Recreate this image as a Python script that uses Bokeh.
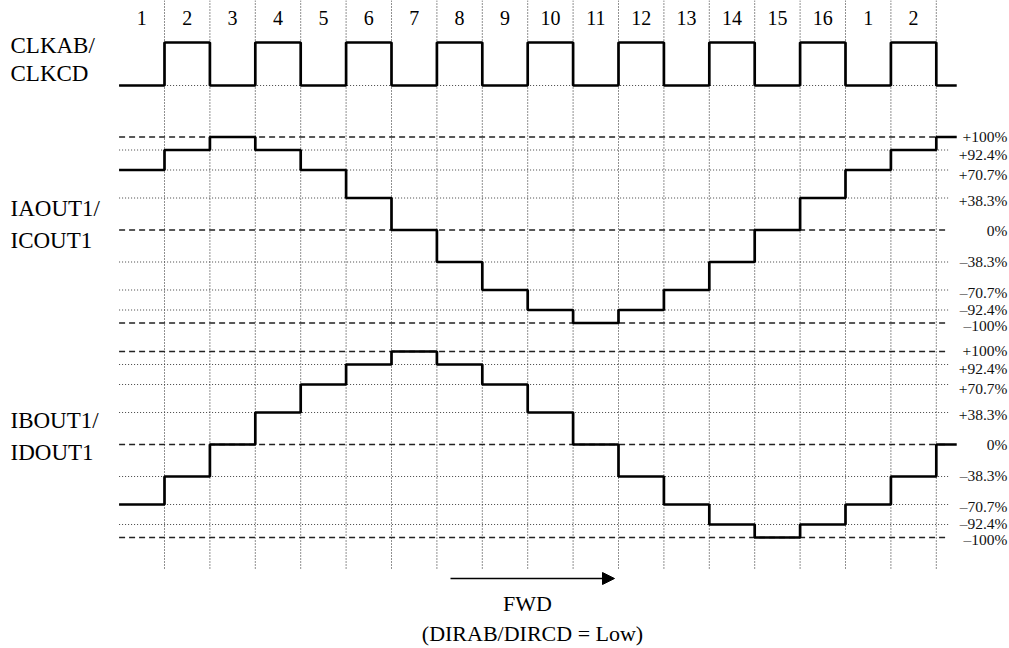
import numpy as np
from bokeh.plotting import figure
from bokeh.models import Range1d, Arrow, NormalHead
from bokeh.embed import file_html
from bokeh.resources import INLINE
from bokeh.core.properties import value

# ---------------- data ----------------
step_labels = ["1", "2", "3", "4", "5", "6", "7", "8", "9", "10",
               "11", "12", "13", "14", "15", "16", "1", "2"]
clk = [0, 1, 0, 1, 0, 1, 0, 1, 0, 1, 0, 1, 0, 1, 0, 1, 0, 1, 0]
ia_out = [70.7, 92.4, 100, 92.4, 70.7, 38.3, 0, -38.3, -70.7, -92.4,
          -100, -92.4, -70.7, -38.3, 0, 38.3, 70.7, 92.4, 100]
ib_out = [-70.7, -38.3, 0, 38.3, 70.7, 92.4, 100, 92.4, 70.7, 38.3,
          0, -38.3, -70.7, -92.4, -100, -92.4, -70.7, -38.3, 0]
levels = [-100, -92.4, -70.7, -38.3, 0, 38.3, 70.7, 92.4, 100]
level_labels = ["\u2013100%", "\u201392.4%", "\u201370.7%", "\u201338.3%", "0%",
                "+38.3%", "+70.7%", "+92.4%", "+100%"]
dashed_levels = [-100, 0, 100]
signal_names = [["CLKAB/", "CLKCD"], ["IAOUT1/", "ICOUT1"], ["IBOUT1/", "IDOUT1"]]
direction_text = ["FWD", "(DIRAB/DIRCD = Low)"]

# ---------------- layout (schematic) ----------------
W, H = 1009, 648
X0_PX, DX_PX = 118.6, 45.4          # x pixel of step 0 and step width
T_END = 18.45                       # end of waveforms (in steps)
T_GRID_END = 18.27
level_offsets = [-93, -80, -60, -32, 0, 32, 60, 80, 93]   # schematic spacing of levels
label_nudge = [2, -1, 2, -1, 0, 2, 4, 4, -1]
ZERO_A, ZERO_B = 229.5, 444.0
CLK_LOW, CLK_HIGH = 85.0, 42.0
FONT = value("Liberation Serif")


def px_to_t(px):
    return (px - X0_PX) / DX_PX


def level_y(vals, zero):
    return zero - np.interp(np.asarray(vals, dtype=float), levels, level_offsets)


p = figure(width=W, height=H, output_backend="svg", toolbar_location=None,
           x_range=Range1d(px_to_t(0), px_to_t(W)),
           y_range=Range1d(H, 0), min_border=0)
p.axis.visible = False
p.grid.visible = False
p.outline_line_color = None
p.background_fill_color = "white"

n = len(step_labels)
xs = list(range(n + 1)) + [T_END]

# vertical dotted step boundaries
bounds = list(range(1, n + 1))
p.segment(x0=bounds, y0=[0] * len(bounds), x1=bounds, y1=[570] * len(bounds),
          line_color="#222222", line_width=1, line_dash="1 2")

# horizontal reference lines for each current panel
for zero in (ZERO_A, ZERO_B):
    ys = level_y(levels, zero)
    for lv, y in zip(levels, ys):
        dashed = lv in dashed_levels
        p.segment(x0=[0], y0=[y], x1=[T_GRID_END], y1=[y],
                  line_color="#222222" if dashed else "#444444",
                  line_width=1.3 if dashed else 1,
                  line_dash="6 4" if dashed else "1 2")
    p.text(x=[px_to_t(1007)] * len(levels),
           y=list(ys + np.array(label_nudge)),
           text=level_labels, text_font=FONT, text_font_size="15.5px",
           text_align="right", text_baseline="middle", text_color="#111111")

# clock low reference line
p.segment(x0=[0], y0=[CLK_LOW], x1=[T_END - 0.2], y1=[CLK_LOW],
          line_color="#444444", line_width=1, line_dash="1 2")

# waveforms
clk_y = [CLK_LOW - (CLK_LOW - CLK_HIGH) * v for v in clk]
p.step(x=xs, y=clk_y + [clk_y[-1]], mode="after", line_color="black", line_width=2.7)
ya = list(level_y(ia_out, ZERO_A))
p.step(x=xs, y=ya + [ya[-1]], mode="after", line_color="black", line_width=2.7)
yb = list(level_y(ib_out, ZERO_B))
p.step(x=xs, y=yb + [yb[-1]], mode="after", line_color="black", line_width=2.7)

# step numbers
p.text(x=[i + 0.5 for i in range(n)], y=[17] * n, text=step_labels,
       text_font=FONT, text_font_size="20px", text_align="center",
       text_baseline="middle", text_color="black")

# signal names
name_y = [[45, 73], [208, 240], [420, 452]]
for names, ys in zip(signal_names, name_y):
    p.text(x=[px_to_t(10)] * 2, y=ys, text=names, text_font=FONT,
           text_font_size="23px", text_align="left", text_baseline="middle",
           text_color="black")

# direction arrow and text
p.add_layout(Arrow(end=NormalHead(size=12, fill_color="black", line_color="black"),
                   x_start=px_to_t(450), y_start=578, x_end=px_to_t(614), y_end=578,
                   line_color="black", line_width=1.5))
p.text(x=[px_to_t(527), px_to_t(532)], y=[603, 633], text=direction_text,
       text_font=FONT, text_font_size="22px", text_align="center",
       text_baseline="middle", text_color="black")

open("out.html", "w").write(file_html(p, INLINE))
